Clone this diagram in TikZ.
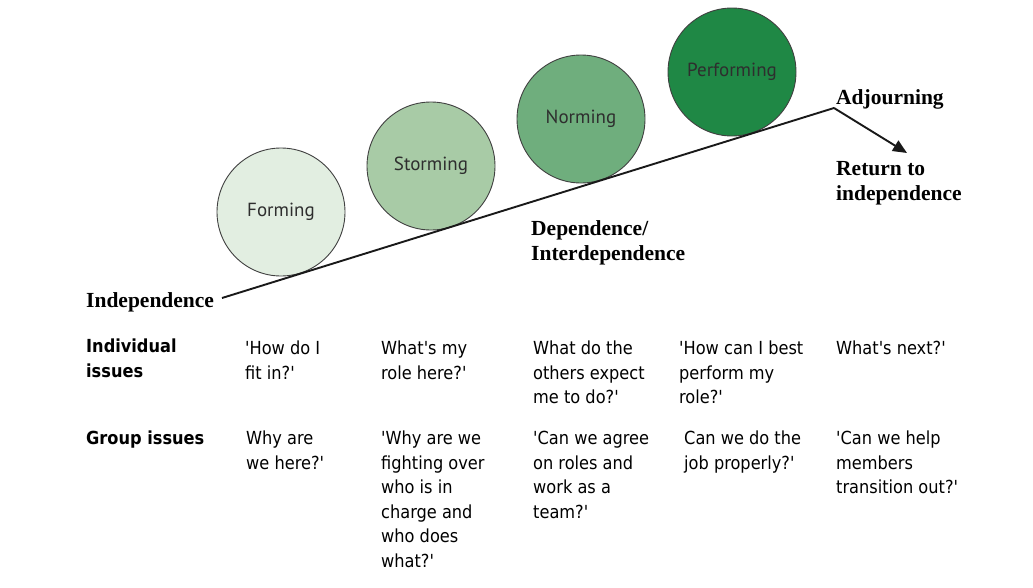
\documentclass[tikz,border=0pt]{standalone}
\usepackage{fontspec}
\setmainfont{DejaVu Sans Condensed}[Ligatures=TeXOff]
\newfontfamily\lblfont{Liberation Serif}
\newfontfamily\circfont{PT Sans}
\usetikzlibrary{arrows.meta}
\definecolor{cform}{HTML}{E2EEE1}
\definecolor{cstorm}{HTML}{A8CBA6}
\definecolor{cnorm}{HTML}{6FAE7D}
\definecolor{cperf}{HTML}{1F8845}
\definecolor{ctxt}{HTML}{2E2E2E}
\tikzset{
  stage/.style={circle, draw=black!75, line width=0.9pt, minimum size=128pt, inner sep=0pt,
    font=\circfont\fontsize{19}{22}\selectfont, text=ctxt},
  bodytext/.style={anchor=north west, inner sep=0pt, align=left,
    font=\fontsize{18}{24.5}\selectfont, execute at begin node=\strut},
  headtext/.style={anchor=north west, inner sep=0pt, align=left,
    font=\bfseries\fontsize{18}{24.5}\selectfont, execute at begin node=\strut},
  axistext/.style={anchor=north west, inner sep=0pt, align=left,
    font=\lblfont\bfseries\fontsize{21.5}{25}\selectfont, execute at begin node=\strut},
  axisline/.style={line width=1.9pt, black!90}
}
\begin{document}
\begin{tikzpicture}[x=1pt,y=-1pt]
\useasboundingbox (0,0) rectangle (1033,587);
% stages
\node[stage, fill=cform]  (forming)    at (281,212) {Forming};
\node[stage, fill=cstorm] (storming)   at (431,166) {Storming};
\node[stage, fill=cnorm]  (norming)    at (581,119) {Norming};
\node[stage, fill=cperf]  (performing) at (732,72)  {Performing};
% axis line
\coordinate (start) at (222,298);
\coordinate (corner) at (834,108);
\coordinate (ret) at (907,153);
\draw[axisline] (start) -- (corner);
\draw[axisline, -{Triangle[length=14pt,width=12pt]}] (corner) -- (ret);
% axis labels
\node[axistext] (indep) at (86,289.5) {Independence};
\node[axistext] (dep) at (531,220) {Dependence/\\Interdependence};
\node[axistext] (adj) at (836,86.5) {Adjourning};
\node[axistext] (retlbl) at (836,161) {Return to\\independence};
% row headers
\node[headtext] (indiv) at (86,339) {Individual\\issues};
\node[headtext] (group) at (86,427) {Group issues};
% individual issues
\node[bodytext] (i1) at (245,341) {'How do I\\fit in?'};
\node[bodytext] (i2) at (381,341) {What's my\\role here?'};
\node[bodytext] (i3) at (533,341) {What do the\\others expect\\me to do?'};
\node[bodytext] (i4) at (679,341) {'How can I best\\perform my\\role?'};
\node[bodytext] (i5) at (836,337) {What's next?'};
% group issues
\node[bodytext] (g1) at (246,431) {Why are\\we here?'};
\node[bodytext] (g2) at (381,431) {'Why are we\\fighting over\\who is in\\charge and\\who does\\what?'};
\node[bodytext] (g3) at (533,431) {'Can we agree\\on roles and\\work as a\\team?'};
\node[bodytext] (g4) at (684,431) {Can we do the\\job properly?'};
\node[bodytext] (g5) at (836,431) {'Can we help\\members\\transition out?'};
\end{tikzpicture}
\end{document}
